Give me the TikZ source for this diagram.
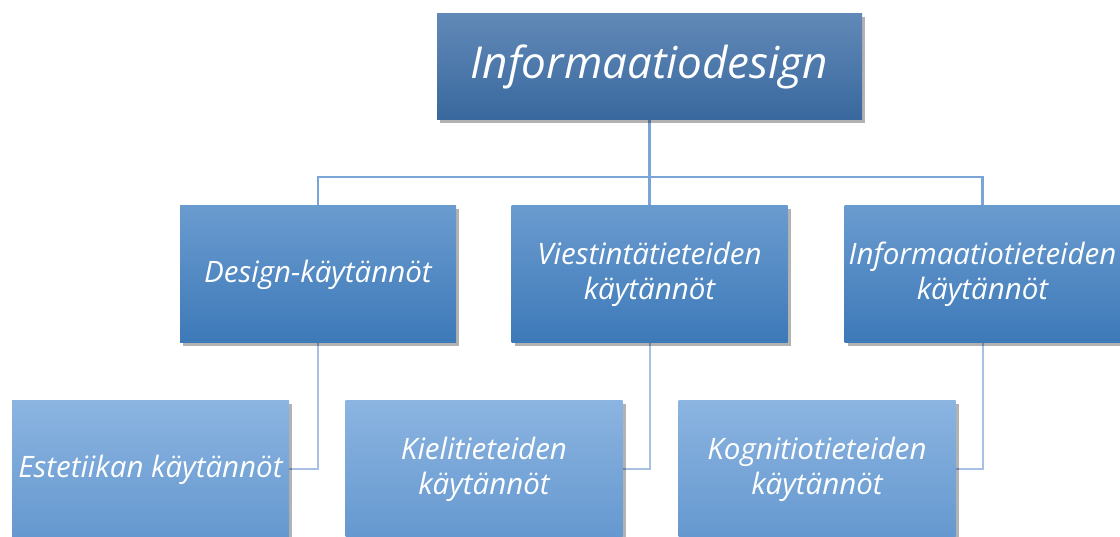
\documentclass[tikz,border=0pt]{standalone}
\usepackage{fontspec}
\setmainfont{Open Sans}
\usetikzlibrary{shadows}
\usetikzlibrary{positioning}

\definecolor{topA}{HTML}{6189B7}
\definecolor{topB}{HTML}{39689E}
\definecolor{midA}{HTML}{6A9BCF}
\definecolor{midB}{HTML}{3D79B8}
\definecolor{lowA}{HTML}{8BB4E1}
\definecolor{lowB}{HTML}{6598CF}
\definecolor{lineA}{HTML}{7AA5D9}
\definecolor{lineB}{HTML}{A6C1E3}

\begin{document}
\begin{tikzpicture} [x=1pt,y=-1pt]
	 \tikzstyle{box}=[rectangle,inner sep=0pt,text=white,align=center,
	   drop shadow={shadow xshift=3pt,shadow yshift=-3pt,opacity=0.3,fill=black}]
	 \tikzstyle{topbox}=[box,minimum width=425pt,minimum height=106pt,top color=topA,bottom color=topB,
	   font=\fontsize{44}{50}\selectfont\itshape]
	 \tikzstyle{midbox}=[box,minimum width=276pt,minimum height=137pt,top color=midA,bottom color=midB,
	   font=\fontsize{29.5}{35}\selectfont\itshape]
	 \tikzstyle{lowbox}=[box,minimum width=277pt,minimum height=137pt,top color=lowA,bottom color=lowB,
	   font=\fontsize{29.5}{35}\selectfont\itshape]
	 \tikzstyle{edge} = [draw,line width=2.5pt,-,lineA]
	 \tikzstyle{subedge} = [draw,line width=2pt,-,lineB]
	 \useasboundingbox (0,0) rectangle (1120,537);

	 \coordinate (bus) at (649.5,177);
	 % connectors first, boxes on top
	 \path (649.5,67) coordinate (t0);
	 \draw[edge] (t0) -- (bus);
	 \draw[edge] (bus) -| (318,274.5);
	 \draw[edge] (bus) -| (982.5,274.5);
	 \draw[edge] (bus) -- (649.5,274.5);
	 \draw[subedge] (318,274.5) |- (150.5,469);
	 \draw[subedge] (649.5,274.5) |- (484,469);
	 \draw[subedge] (982.5,274.5) |- (817,469);

	 \node[topbox] (id) at (t0) {Informaatiodesign};

	 \node[midbox] (m1) at (318,274.5) {Design-käytännöt};
	 \node[midbox] (m2) at (649.5,274.5) {Viestintätieteiden\\käytännöt};
	 \node[midbox] (m3) at (982.5,274.5) {Informaatiotieteiden\\käytännöt};

	 \node[lowbox] (l1) at (150.5,469.5) {Estetiikan käytännöt};
	 \node[lowbox] (l2) at (484,469.5) {Kielitieteiden\\käytännöt};
	 \node[lowbox] (l3) at (817,469.5) {Kognitiotieteiden\\käytännöt};
\end{tikzpicture}
\end{document}
